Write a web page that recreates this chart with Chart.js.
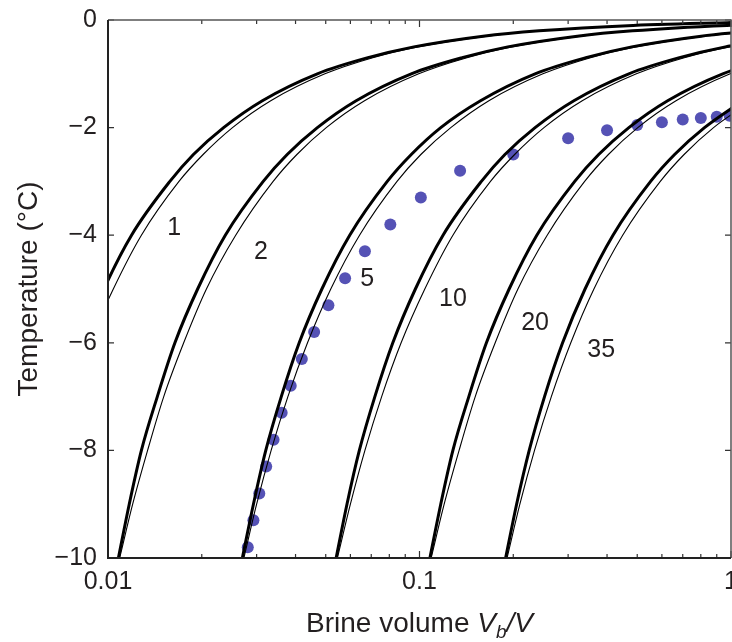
<!DOCTYPE html>
<html>
<head>
<meta charset="utf-8">
<script src="https://cdn.jsdelivr.net/npm/chart.js@4/dist/chart.umd.min.js"></script>
<style>
  html, body { margin: 0; padding: 0; background: #fff; }
  #wrap { width: 732px; height: 642px; }
</style>
</head>
<body>
<div id="wrap"><canvas id="chart"></canvas></div>
<script>
// temperature (°C) at which each curve is sampled
const temps = [-10, -9, -8, -7, -6, -5, -4, -3, -2.5, -2, -1.5, -1, -0.7, -0.5, -0.3, -0.2, -0.1, -0.05, -0.04];

// brine volume, salinity 1, 2, 5, 10, 20, 35
const thin1 = [0.00545, 0.006, 0.00668, 0.00756, 0.00873, 0.0104, 0.0128, 0.0169, 0.0202, 0.0251, 0.0333, 0.0497, 0.0708, 0.0989, 0.165, 0.247, 0.492, 0.984, 1.23];
const thick1 = [0.0054, 0.00585, 0.00641, 0.00719, 0.00821, 0.0097, 0.0119, 0.0158, 0.0188, 0.0235, 0.0313, 0.047, 0.0683, 0.0959, 0.16, 0.242, 0.485, 0.974, 1.22];
const thin2 = [0.0109, 0.012, 0.0134, 0.0151, 0.0175, 0.0207, 0.0257, 0.0339, 0.0404, 0.0502, 0.0666, 0.0994, 0.142, 0.198, 0.329, 0.493, 0.985, 1.97];
const thick2 = [0.0108, 0.0117, 0.0128, 0.0144, 0.0164, 0.0194, 0.0238, 0.0315, 0.0376, 0.047, 0.0626, 0.0941, 0.137, 0.192, 0.321, 0.483, 0.97, 1.95];
const thin5 = [0.0273, 0.03, 0.0334, 0.0378, 0.0437, 0.0519, 0.0642, 0.0847, 0.101, 0.126, 0.167, 0.249, 0.354, 0.495, 0.823, 1.23];
const thick5 = [0.027, 0.0293, 0.0321, 0.036, 0.0411, 0.0486, 0.0597, 0.0788, 0.0941, 0.117, 0.157, 0.235, 0.342, 0.48, 0.802, 1.21];
const thin10 = [0.0545, 0.06, 0.0668, 0.0756, 0.0873, 0.104, 0.128, 0.169, 0.202, 0.251, 0.333, 0.497, 0.708, 0.989, 1.65];
const thick10 = [0.054, 0.0585, 0.0641, 0.0719, 0.0821, 0.097, 0.119, 0.158, 0.188, 0.235, 0.313, 0.47, 0.683, 0.959, 1.6];
const thin20 = [0.109, 0.12, 0.134, 0.151, 0.175, 0.207, 0.257, 0.339, 0.404, 0.502, 0.666, 0.994, 1.42];
const thick20 = [0.108, 0.117, 0.128, 0.144, 0.164, 0.194, 0.238, 0.315, 0.376, 0.47, 0.626, 0.941, 1.37];
const thin35 = [0.191, 0.21, 0.234, 0.265, 0.306, 0.363, 0.449, 0.593, 0.707, 0.879, 1.17];
const thick35 = [0.189, 0.205, 0.225, 0.252, 0.288, 0.34, 0.418, 0.552, 0.659, 0.822, 1.09];

// blue dots
const dotVolume = [0.0281, 0.0293, 0.0306, 0.0322, 0.034, 0.0361, 0.0386, 0.0419, 0.0459, 0.051, 0.0577, 0.0668, 0.0806, 0.101, 0.135, 0.2, 0.3, 0.4, 0.5, 0.6, 0.7, 0.8, 0.9, 0.99];
const dotTemp = [-9.8, -9.3, -8.8, -8.3, -7.8, -7.3, -6.8, -6.3, -5.8, -5.3, -4.8, -4.3, -3.8, -3.3, -2.8, -2.5, -2.2, -2.05, -1.95, -1.9, -1.85, -1.82, -1.8, -1.78];

// curve labels and where they sit (data coords)
const curveLabels = ["1", "2", "5", "10", "20", "35"];
const labelVolume = [0.0163, 0.031, 0.0679, 0.128, 0.235, 0.383];
const labelTemp = [-3.87, -4.31, -4.81, -5.19, -5.63, -6.13];

const xMajor = [0.01, 0.1, 1];
const xMinor = [0.02, 0.03, 0.04, 0.05, 0.06, 0.07, 0.08, 0.09, 0.2, 0.3, 0.4, 0.5, 0.6, 0.7, 0.8, 0.9];
const yTicks = [0, -2, -4, -6, -8, -10];

const FONT = '"Liberation Sans", Arial, Helvetica, sans-serif';
const INK = "#231f20";

function curve(vols, width) {
  return {
    type: "line",
    data: vols.map((v, i) => ({ x: v, y: temps[i] })),
    borderColor: "#000",
    borderWidth: width,
    pointRadius: 0,
    cubicInterpolationMode: "monotone",
    fill: false,
    order: 1,
  };
}

const frame = {
  id: "frame",
  afterDatasetsDraw(chart) {
    const { ctx, chartArea: a, scales: { x, y } } = chart;
    ctx.save();

    // inward ticks on all four sides
    ctx.strokeStyle = "#333";
    ctx.lineWidth = 1.2;
    ctx.beginPath();
    xMajor.concat(xMinor).forEach((v) => {
      const px = x.getPixelForValue(v);
      const len = xMajor.includes(v) ? 7 : 4;
      ctx.moveTo(px, a.bottom);
      ctx.lineTo(px, a.bottom - len);
      ctx.moveTo(px, a.top);
      ctx.lineTo(px, a.top + len);
    });
    yTicks.forEach((v) => {
      const py = y.getPixelForValue(v);
      ctx.moveTo(a.left, py);
      ctx.lineTo(a.left + 6, py);
      ctx.moveTo(a.right, py);
      ctx.lineTo(a.right - 6, py);
    });
    ctx.stroke();

    // box
    ctx.strokeStyle = "#555";
    ctx.lineWidth = 1.5;
    ctx.beginPath();
    ctx.moveTo(a.left, a.top);
    ctx.lineTo(a.right, a.top);
    ctx.lineTo(a.right, a.bottom);
    ctx.stroke();
    ctx.strokeStyle = "#222";
    ctx.lineWidth = 2;
    ctx.beginPath();
    ctx.moveTo(a.left, a.top);
    ctx.lineTo(a.left, a.bottom);
    ctx.lineTo(a.right, a.bottom);
    ctx.stroke();

    // salinity labels
    ctx.fillStyle = INK;
    ctx.font = "25px " + FONT;
    ctx.textAlign = "center";
    ctx.textBaseline = "middle";
    curveLabels.forEach((t, i) => {
      ctx.fillText(t, x.getPixelForValue(labelVolume[i]), y.getPixelForValue(labelTemp[i]));
    });

    // y title
    ctx.save();
    ctx.translate(29, (a.top + a.bottom) / 2);
    ctx.rotate(-Math.PI / 2);
    ctx.font = "28px " + FONT;
    ctx.fillText("Temperature (\u00B0C)", 0, 0);
    ctx.restore();

    // x title: Brine volume V_b/V
    const parts = [
      { t: "Brine volume ", f: "28px " + FONT, dy: 0 },
      { t: "V", f: "italic 28px " + FONT, dy: 0 },
      { t: "b", f: "italic 19px " + FONT, dy: 6 },
      { t: "/V", f: "italic 28px " + FONT, dy: 0 },
    ];
    let total = 0;
    parts.forEach((p) => { ctx.font = p.f; p.w = ctx.measureText(p.t).width; total += p.w; });
    let cx = (a.left + a.right) / 2 - total / 2;
    ctx.textAlign = "left";
    ctx.textBaseline = "alphabetic";
    parts.forEach((p) => {
      ctx.font = p.f;
      ctx.fillText(p.t, cx, 632 + p.dy);
      cx += p.w;
    });

    ctx.restore();
  },
};

new Chart(document.getElementById("chart"), {
  type: "line",
  data: {
    datasets: [
      {
        type: "scatter",
        data: dotVolume.map((v, i) => ({ x: v, y: dotTemp[i] })),
        backgroundColor: "#5552b5",
        borderWidth: 0,
        pointRadius: 6,
        order: 2,
      },
      curve(thick1, 3), curve(thin1, 1.1),
      curve(thick2, 3), curve(thin2, 1.1),
      curve(thick5, 3), curve(thin5, 1.1),
      curve(thick10, 3), curve(thin10, 1.1),
      curve(thick20, 3), curve(thin20, 1.1),
      curve(thick35, 3), curve(thin35, 1.1),
    ],
  },
  options: {
    responsive: true,
    maintainAspectRatio: false,
    animation: false,
    layout: { autoPadding: false, padding: { left: 0, right: 1, top: 20, bottom: 0 } },
    plugins: { legend: { display: false }, tooltip: { enabled: false } },
    scales: {
      x: {
        type: "logarithmic",
        min: 0.01,
        max: 1,
        grid: { display: true, drawOnChartArea: false, drawTicks: false },
        border: { display: false },
        afterBuildTicks: (scale) => { scale.ticks = xMajor.map((v) => ({ value: v })); },
        afterFit: (scale) => { scale.height = 84; scale.paddingLeft = 0; scale.paddingRight = 0; },
        ticks: {
          autoSkip: false,
          maxRotation: 0,
          padding: 9,
          color: INK,
          font: { family: FONT, size: 25 },
          callback: (v) => String(v),
        },
      },
      y: {
        type: "linear",
        min: -10,
        max: 0,
        grid: { display: true, drawOnChartArea: false, drawTicks: false },
        border: { display: false },
        afterBuildTicks: (scale) => { scale.ticks = yTicks.map((v) => ({ value: v })); },
        afterFit: (scale) => { scale.width = 108; scale.paddingTop = 0; scale.paddingBottom = 0; },
        ticks: {
          padding: 11,
          color: INK,
          font: { family: FONT, size: 25 },
          callback: (v) => (v < 0 ? "\u2212" + Math.abs(v) : String(v)),
        },
      },
    },
  },
  plugins: [frame],
});
</script>
</body>
</html>
